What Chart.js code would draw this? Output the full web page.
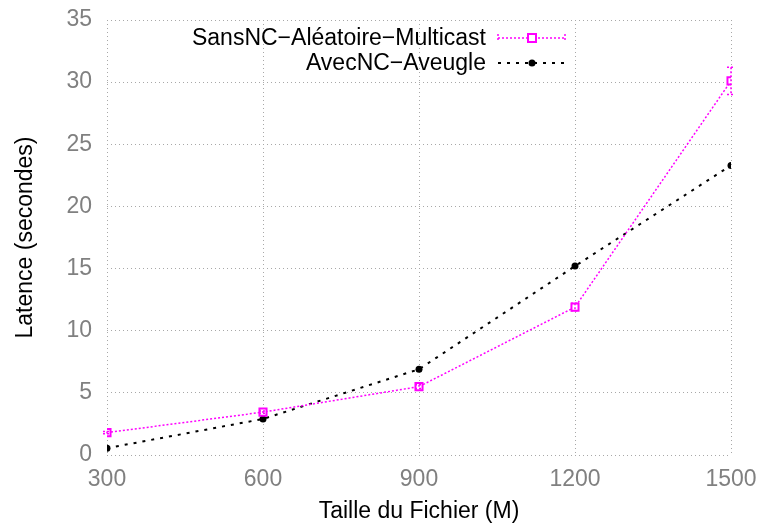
<!DOCTYPE html>
<html>
<head>
<meta charset="utf-8">
<script src="https://cdn.jsdelivr.net/npm/chart.js@4/dist/chart.umd.min.js"></script>
<style>
  html, body { margin: 0; padding: 0; background: #fff; }
  #wrap { width: 759px; height: 526px; }
</style>
</head>
<body>
<div id="wrap"><canvas id="chart"></canvas></div>
<script>
const fileSizes = [300, 600, 900, 1200, 1500];
const sansNC = [1.8, 3.45, 5.5, 11.9, 30.1];
const sansNCErr = [0.1, 0.1, 0.15, 0.3, 1.1];
const avecNC = [0.55, 2.9, 6.9, 15.2, 23.3];
const seriesNames = ['SansNC\u2212Al\u00e9atoire\u2212Multicast', 'AvecNC\u2212Aveugle'];

const FONT = '"Liberation Sans", Arial, sans-serif';
const MAGENTA = '#ff00ff';

function toPoints(ys) {
    return fileSizes.map((x, i) => ({ x: x, y: ys[i] }));
}

// gnuplot style: vertical error bars on the first series
const errorBars = {
    id: 'errorBars',
    afterDatasetsDraw(chart) {
        const ctx = chart.ctx;
        const xs = chart.scales.x;
        const ys = chart.scales.y;
        ctx.save();
        ctx.strokeStyle = MAGENTA;
        ctx.lineWidth = 1.5;
        ctx.setLineDash([2, 2]);
        fileSizes.forEach((x, i) => {
            const px = xs.getPixelForValue(x);
            const top = ys.getPixelForValue(sansNC[i] + sansNCErr[i]);
            const bot = ys.getPixelForValue(sansNC[i] - sansNCErr[i]);
            ctx.beginPath();
            ctx.moveTo(px, top);
            ctx.lineTo(px, bot);
            ctx.moveTo(px - 4, top);
            ctx.lineTo(px + 4, top);
            ctx.moveTo(px - 4, bot);
            ctx.lineTo(px + 4, bot);
            ctx.stroke();
        });
        ctx.restore();
    }
};

// legend drawn like gnuplot: text right-aligned, sample to the right
const keyBox = {
    id: 'keyBox',
    afterDraw(chart) {
        const ctx = chart.ctx;
        const textRight = 486;
        const x0 = 498, x1 = 565, xm = 532;
        const rows = [38, 63];
        ctx.save();
        ctx.font = '23px ' + FONT;
        ctx.fillStyle = '#000';
        ctx.textAlign = 'right';
        ctx.textBaseline = 'middle';
        seriesNames.forEach((name, i) => ctx.fillText(name, textRight, rows[i] + 1));

        // magenta sample with error bar caps
        ctx.strokeStyle = MAGENTA;
        ctx.lineWidth = 1.5;
        ctx.setLineDash([2, 2]);
        ctx.beginPath();
        ctx.moveTo(x0, rows[0]);
        ctx.lineTo(x1, rows[0]);
        ctx.moveTo(x0, rows[0] - 4);
        ctx.lineTo(x0, rows[0] + 4);
        ctx.moveTo(x1, rows[0] - 4);
        ctx.lineTo(x1, rows[0] + 4);
        ctx.stroke();
        ctx.setLineDash([]);
        ctx.lineWidth = 2;
        ctx.fillStyle = '#fff';
        ctx.fillRect(xm - 4, rows[0] - 4, 8, 8);
        ctx.strokeRect(xm - 4, rows[0] - 4, 8, 8);

        // black sample
        ctx.strokeStyle = '#000';
        ctx.lineWidth = 2;
        ctx.setLineDash([3, 6]);
        ctx.beginPath();
        ctx.moveTo(x0, rows[1]);
        ctx.lineTo(x1, rows[1]);
        ctx.stroke();
        ctx.setLineDash([]);
        ctx.fillStyle = '#000';
        ctx.beginPath();
        ctx.arc(xm, rows[1], 3.5, 0, Math.PI * 2);
        ctx.fill();
        ctx.restore();
    }
};

new Chart(document.getElementById('chart'), {
    type: 'line',
    data: {
        datasets: [
            {
                label: seriesNames[0],
                data: toPoints(sansNC),
                borderColor: MAGENTA,
                borderWidth: 1.5,
                borderDash: [2, 2],
                pointStyle: 'rect',
                pointRadius: 5,
                pointBorderWidth: 2,
                pointBorderColor: MAGENTA,
                pointBackgroundColor: '#fff',
                tension: 0
            },
            {
                label: seriesNames[1],
                data: toPoints(avecNC),
                borderColor: '#000',
                borderWidth: 2,
                borderDash: [3, 6],
                pointStyle: 'circle',
                pointRadius: 3.5,
                pointBorderWidth: 0,
                pointBackgroundColor: '#000',
                tension: 0
            }
        ]
    },
    options: {
        responsive: true,
        maintainAspectRatio: false,
        animation: false,
        layout: { padding: { left: 0, right: 28, top: 20, bottom: 0 } },
        plugins: {
            legend: { display: false },
            tooltip: { enabled: false }
        },
        scales: {
            x: {
                type: 'linear',
                min: 300,
                max: 1500,
                ticks: {
                    stepSize: 300,
                    color: '#808080',
                    font: { family: FONT, size: 23 },
                    padding: 11,
                    maxRotation: 0,
                    callback: (v) => String(v)
                },
                grid: { color: '#a8a8a8', tickLength: 0, lineWidth: 1 },
                border: { display: false, dash: [1, 3] },
                title: {
                    display: true,
                    text: 'Taille du Fichier (M)',
                    color: '#000',
                    font: { family: FONT, size: 23 },
                    padding: { top: 4, bottom: 1 }
                },
                afterFit(scale) {
                    scale.height = 71;
                    scale.paddingLeft = 0;
                    scale.paddingRight = 0;
                }
            },
            y: {
                min: 0,
                max: 35,
                ticks: {
                    stepSize: 5,
                    color: '#808080',
                    font: { family: FONT, size: 23 },
                    padding: 15,
                    callback: (v) => String(v)
                },
                grid: { color: '#a8a8a8', tickLength: 0, lineWidth: 1 },
                border: { display: false, dash: [1, 3] },
                title: {
                    display: true,
                    text: 'Latence (secondes)',
                    color: '#000',
                    font: { family: FONT, size: 23 },
                    padding: { top: 12 }
                },
                afterFit(scale) {
                    scale.width = 107;
                    scale.paddingTop = 0;
                    scale.paddingBottom = 0;
                }
            }
        }
    },
    plugins: [errorBars, keyBox]
});
</script>
</body>
</html>
